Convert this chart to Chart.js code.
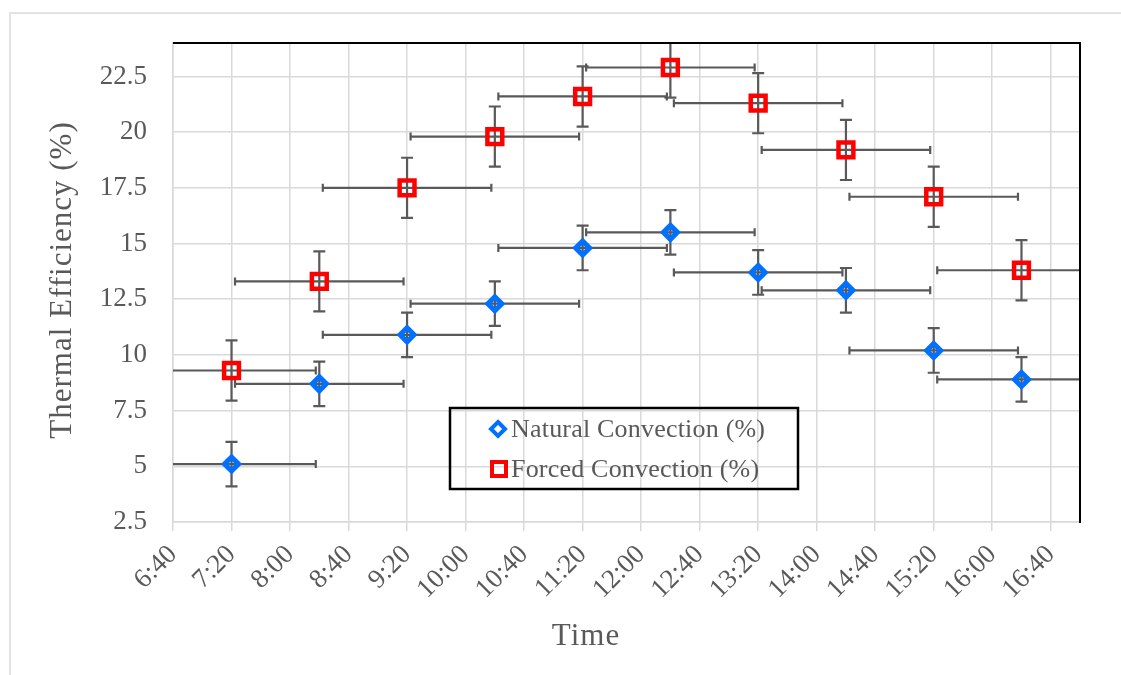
<!DOCTYPE html>
<html lang="en">
<head>
    <meta charset="UTF-8">
    <title>Thermal Efficiency</title>
    <script src="https://cdn.jsdelivr.net/npm/chart.js"></script>
    <style>
        body { margin: 0; background: #fff; }
        #wrap { position: relative; width: 1121px; height: 675px; }
    </style>
</head>
<body>
<div id="wrap">
    <canvas id="grafico"></canvas>
</div>

<script>
    // dados
    const horarios = ['7:20', '8:20', '9:20', '10:20', '11:20', '12:20', '13:20', '14:20', '15:20', '16:20'];
    const natural = [5.1, 8.7, 10.9, 12.3, 14.8, 15.5, 13.7, 12.9, 10.2, 8.9];
    const forcada = [9.3, 13.3, 17.5, 19.8, 21.6, 22.9, 21.3, 19.2, 17.1, 13.8];
    const erroNatural = [1, 1, 1, 1, 1, 1, 1, 1, 1, 1];
    const erroForcada = [1.35, 1.35, 1.35, 1.35, 1.35, 1.35, 1.35, 1.35, 1.35, 1.35];
    const erroTempo = [57.6, 57.6, 57.6, 57.6, 57.6, 57.6, 57.6, 57.6, 57.6, 57.6]; // minutos
    const ticksY = [2.5, 5, 7.5, 10, 12.5, 15, 17.5, 20, 22.5];
    const ticksX = ['6:40', '7:20', '8:00', '8:40', '9:20', '10:00', '10:40', '11:20', '12:00', '12:40',
        '13:20', '14:00', '14:40', '15:20', '16:00', '16:40'];

    const fonte = "'Liberation Serif', 'Times New Roman', serif";
    const cinzaTexto = '#595959';
    const cinzaGrade = '#d9d9d9';
    const azul = '#0070ff';
    const vermelho = '#ff0000';

    function paraMinutos(h) {
        const p = h.split(':');
        return Number(p[0]) * 60 + Number(p[1]);
    }

    function formatarHora(m) {
        const h = Math.floor(m / 60);
        const mm = m % 60;
        return h + ':' + (mm < 10 ? '0' + mm : mm);
    }

    const minutos = horarios.map(paraMinutos);
    const minutosTicks = ticksX.map(paraMinutos);

    // barras de erro (horizontal e vertical), desenhadas antes dos marcadores
    const barrasErro = {
        id: 'barrasErro',
        beforeDatasetsDraw(chart) {
            const ctx = chart.ctx;
            const x = chart.scales.x;
            const y = chart.scales.y;
            const area = chart.chartArea;
            const series = [[natural, erroNatural], [forcada, erroForcada]];

            ctx.save();
            ctx.beginPath();
            ctx.rect(area.left, area.top, area.right - area.left, area.bottom - area.top);
            ctx.clip();
            ctx.strokeStyle = cinzaTexto;
            ctx.lineWidth = 2.2;

            series.forEach(function (s) {
                const valores = s[0];
                const erros = s[1];
                valores.forEach(function (v, i) {
                    const px = x.getPixelForValue(minutos[i]);
                    const py = y.getPixelForValue(v);
                    const yTopo = y.getPixelForValue(v + erros[i]);
                    const yBase = y.getPixelForValue(v - erros[i]);
                    const xEsq = x.getPixelForValue(minutos[i] - erroTempo[i]);
                    const xDir = x.getPixelForValue(minutos[i] + erroTempo[i]);

                    ctx.beginPath();
                    ctx.moveTo(px, yTopo); ctx.lineTo(px, yBase);
                    ctx.moveTo(px - 6, yTopo); ctx.lineTo(px + 6, yTopo);
                    ctx.moveTo(px - 6, yBase); ctx.lineTo(px + 6, yBase);
                    ctx.moveTo(xEsq, py); ctx.lineTo(xDir, py);
                    ctx.moveTo(xEsq, py - 4); ctx.lineTo(xEsq, py + 4);
                    ctx.moveTo(xDir, py - 4); ctx.lineTo(xDir, py + 4);
                    ctx.stroke();
                });
            });
            ctx.restore();
        },
        beforeDraw(chart) {
            // moldura clara externa
            const ctx = chart.ctx;
            ctx.save();
            ctx.strokeStyle = '#e2e2e2';
            ctx.lineWidth = 2;
            ctx.beginPath();
            ctx.moveTo(10, 675);
            ctx.lineTo(10, 13);
            ctx.lineTo(1121, 13);
            ctx.stroke();
            ctx.restore();
        },
        afterDraw(chart) {
            const ctx = chart.ctx;
            const area = chart.chartArea;
            ctx.save();

            // borda preta superior e direita
            ctx.strokeStyle = '#000';
            ctx.lineWidth = 2;
            ctx.beginPath();
            ctx.moveTo(area.left, area.top);
            ctx.lineTo(area.right, area.top);
            ctx.lineTo(area.right, area.bottom + 1);
            ctx.stroke();

            // titulos dos eixos
            ctx.fillStyle = cinzaTexto;
            ctx.font = '31px ' + fonte;
            ctx.letterSpacing = '1px';
            ctx.textAlign = 'center';
            ctx.textBaseline = 'middle';
            ctx.fillText('Time', 586, 637);
            ctx.translate(63, 280);
            ctx.rotate(-Math.PI / 2);
            ctx.fillText('Thermal Efficiency (%)', 0, 0);
            ctx.restore();

            // legenda
            ctx.save();
            const lx = 450, ly = 408, lw = 348, lh = 81;
            ctx.strokeStyle = '#000';
            ctx.lineWidth = 2.5;
            ctx.strokeRect(lx, ly, lw, lh);

            ctx.strokeStyle = azul;
            ctx.lineWidth = 4;
            ctx.beginPath();
            ctx.moveTo(498, 429 - 7);
            ctx.lineTo(498 + 7, 429);
            ctx.lineTo(498, 429 + 7);
            ctx.lineTo(498 - 7, 429);
            ctx.closePath();
            ctx.stroke();

            ctx.strokeStyle = vermelho;
            ctx.lineWidth = 4;
            ctx.strokeRect(499 - 7, 469 - 7, 14, 14);

            ctx.fillStyle = cinzaTexto;
            ctx.font = '26px ' + fonte;
            ctx.letterSpacing = '0.2px';
            ctx.textAlign = 'left';
            ctx.textBaseline = 'middle';
            ctx.fillText('Natural Convection (%)', 511, 430);
            ctx.fillText('Forced Convection (%)', 511, 470);
            ctx.restore();
        }
    };

    const dados = {
        datasets: [{
            label: 'Natural Convection (%)',
            data: minutos.map(function (m, i) { return { x: m, y: natural[i] }; }),
            pointStyle: 'rectRot',
            pointRadius: 7,
            pointBorderWidth: 5,
            pointBorderColor: azul,
            pointBackgroundColor: 'rgba(0,0,0,0)',
            showLine: false
        }, {
            label: 'Forced Convection (%)',
            data: minutos.map(function (m, i) { return { x: m, y: forcada[i] }; }),
            pointStyle: 'rect',
            pointRadius: 10.5,
            pointBorderWidth: 4.5,
            pointBorderColor: vermelho,
            pointBackgroundColor: 'rgba(0,0,0,0)',
            showLine: false
        }]
    };

    const config = {
        type: 'scatter',
        data: dados,
        plugins: [barrasErro],
        options: {
            responsive: true,
            maintainAspectRatio: false,
            animation: false,
            layout: { padding: { top: 43, right: 41, left: 0, bottom: 0 } },
            plugins: {
                legend: { display: false },
                tooltip: { enabled: false }
            },
            scales: {
                x: {
                    type: 'linear',
                    min: minutosTicks[0],
                    max: 1020,
                    afterBuildTicks: function (scale) {
                        scale.ticks = minutosTicks.map(function (v) { return { value: v }; });
                    },
                    afterFit: function (scale) { scale.height = 153; },
                    grid: { color: cinzaGrade, lineWidth: 1.5, tickLength: 9, drawTicks: true },
                    border: { color: cinzaGrade, width: 1.5 },
                    ticks: {
                        autoSkip: false,
                        maxRotation: 45,
                        minRotation: 45,
                        padding: 8,
                        color: cinzaTexto,
                        font: { family: fonte, size: 27 },
                        callback: function (v) { return formatarHora(v); }
                    }
                },
                y: {
                    type: 'linear',
                    min: 2.5,
                    max: 24,
                    afterBuildTicks: function (scale) {
                        scale.ticks = ticksY.map(function (v) { return { value: v }; });
                    },
                    afterFit: function (scale) { scale.width = 173; },
                    grid: { color: cinzaGrade, lineWidth: 1.5, drawTicks: false },
                    border: { color: cinzaGrade, width: 1.5 },
                    ticks: {
                        padding: 26,
                        color: cinzaTexto,
                        font: { family: fonte, size: 27 },
                        callback: function (v) { return String(v); }
                    }
                }
            }
        }
    };

    let meuGrafico = new Chart(document.getElementById('grafico'), config);
</script>
</body>
</html>
